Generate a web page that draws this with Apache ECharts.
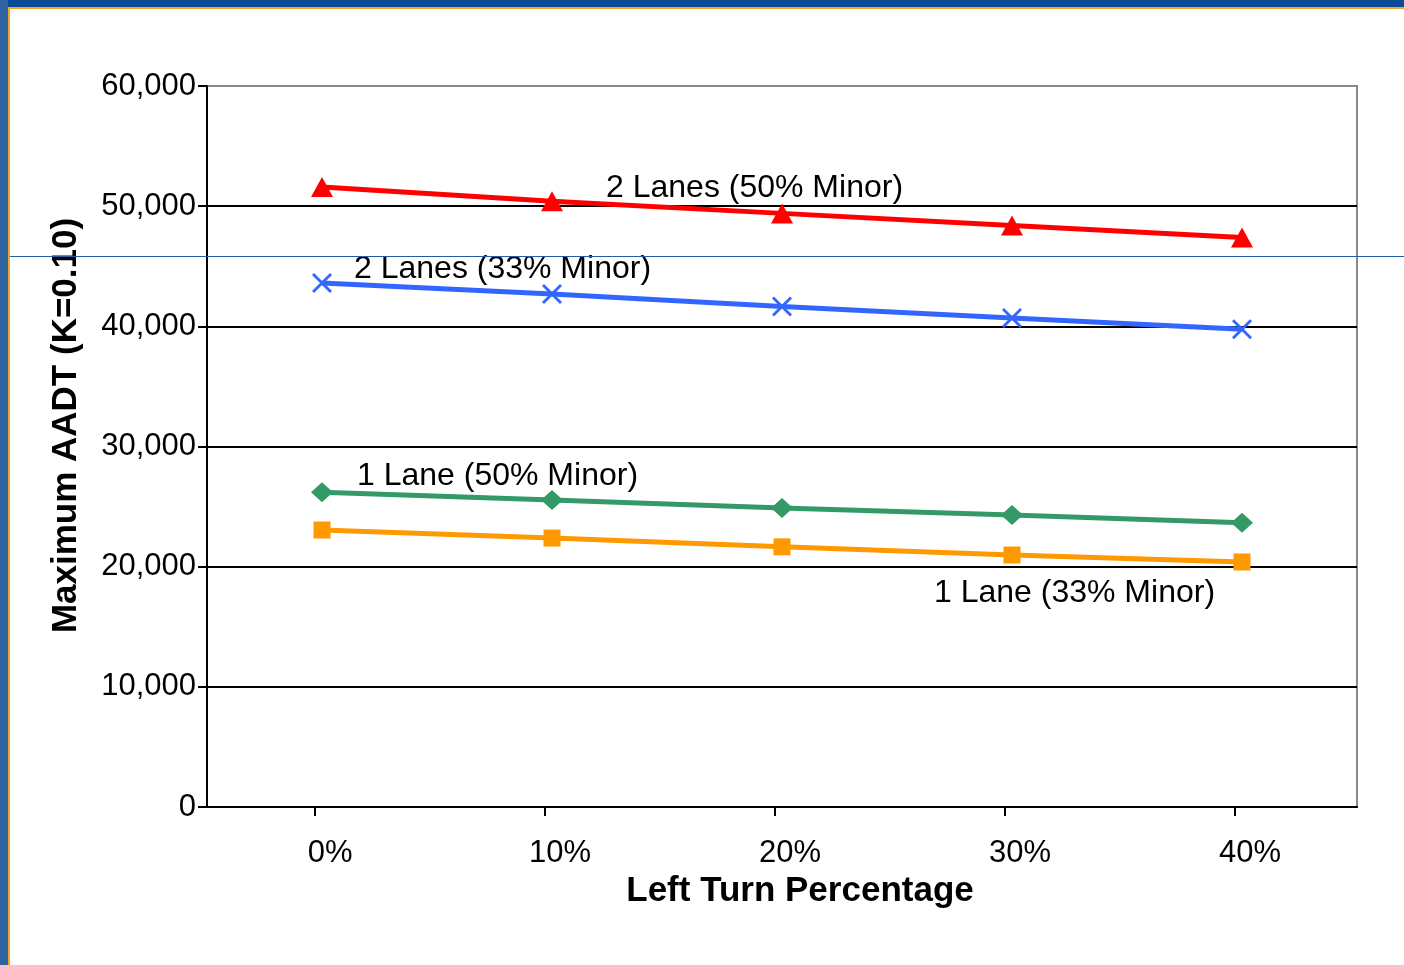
<!DOCTYPE html>
<html>
<head>
<meta charset="utf-8">
<script src="https://cdn.jsdelivr.net/npm/echarts@6/dist/echarts.min.js"></script>
<style>
html,body{margin:0;padding:0;background:#fff;}
#c{width:1404px;height:965px;}
</style>
</head>
<body>
<div id="c"></div>
<script>
// ---- data ----
var categories = [0, 10, 20, 30, 40];           // left turn percentage
var tickLabels = ['0%', '10%', '20%', '30%', '40%'];
var twoLanes50 = [51600, 50400, 49400, 48400, 47400];
var twoLanes33 = [43600, 42700, 41650, 40700, 39750];
var oneLane50 = [26200, 25550, 24880, 24300, 23650];
var oneLane33 = [23050, 22380, 21650, 20970, 20390];
var seriesNames = ['2 Lanes (50% Minor)', '2 Lanes (33% Minor)', '1 Lane (50% Minor)', '1 Lane (33% Minor)'];
var yTicks = [0, 10000, 20000, 30000, 40000, 50000, 60000];

function pairs(vals) { return categories.map(function (c, i) { return [c, vals[i]]; }); }

var FONT = "'Liberation Sans', Arial, sans-serif";
var chart = echarts.init(document.getElementById('c'), null, {renderer: 'canvas'});
var xCross = 'path://M0,1 L1,0 L5,4 L9,0 L10,1 L6,5 L10,9 L9,10 L5,6 L1,10 L0,9 L4,5 Z';

chart.setOption({
  backgroundColor: '#ffffff',
  animation: false,
  grid: {left: 207, right: 47, top: 86, bottom: 158, show: true, borderColor: '#8a8a8a', borderWidth: 2, backgroundColor: 'transparent'},
  xAxis: {
    type: 'value', min: -5, max: 45,
    name: 'Left Turn Percentage', nameLocation: 'middle', nameGap: 67,
    nameTextStyle: {fontFamily: FONT, fontSize: 35, fontWeight: 'bold', color: '#000', padding: [0, 0, 0, 36]},
    axisLine: {show: true, onZero: false, lineStyle: {color: '#000', width: 2}},
    axisTick: {show: true, length: 9, lineStyle: {color: '#000', width: 2},
      customValues: categories.map(function (c) { return c - 0.3; })},
    axisLabel: {fontFamily: FONT, fontSize: 31, color: '#000', margin: 31,
      customValues: categories.map(function (c) { return c + 0.35; }),
      formatter: function (v) { return tickLabels[categories.indexOf(Math.round(v))]; }},
    splitLine: {show: false}
  },
  yAxis: {
    type: 'value', min: 0, max: 60000, interval: 10000,
    name: 'Maximum AADT (K=0.10)', nameLocation: 'middle', nameGap: 123,
    nameTextStyle: {fontFamily: FONT, fontSize: 35, fontWeight: 'bold', color: '#000', padding: [0, 0, 0, 42]},
    axisLine: {show: true, onZero: false, lineStyle: {color: '#000', width: 2}},
    axisTick: {show: true, length: 9, lineStyle: {color: '#000', width: 2}},
    axisLabel: {fontFamily: FONT, fontSize: 31, color: '#000', margin: 11,
      formatter: function (v) { return v.toLocaleString('en-US'); }},
    splitLine: {show: true, lineStyle: {color: yTicks.map(function (t, i) { return i === yTicks.length - 1 ? '#8a8a8a' : '#000'; }), width: 2}}
  },
  series: [
    {name: seriesNames[0], type: 'line', data: pairs(twoLanes50), symbol: 'triangle', symbolSize: [22, 20],
      lineStyle: {color: '#ff0000', width: 5}, itemStyle: {color: '#ff0000'}},
    {name: seriesNames[1], type: 'line', data: pairs(twoLanes33), symbol: xCross, symbolSize: 20,
      lineStyle: {color: '#3366ff', width: 5}, itemStyle: {color: '#3366ff'}},
    {name: seriesNames[2], type: 'line', data: pairs(oneLane50), symbol: 'diamond', symbolSize: [22, 20],
      lineStyle: {color: '#339966', width: 5}, itemStyle: {color: '#339966'}},
    {name: seriesNames[3], type: 'line', data: pairs(oneLane33), symbol: 'rect', symbolSize: 17,
      lineStyle: {color: '#ff9900', width: 5}, itemStyle: {color: '#ff9900'}}
  ],
  graphic: [
    // slide frame decoration
    {type: 'rect', left: 0, top: 0, shape: {width: 1404, height: 7}, style: {fill: '#0b4a97'}, silent: true},
    {type: 'rect', left: 0, top: 0, shape: {width: 8, height: 965}, style: {fill: '#2f64a0'}, silent: true},
    {type: 'rect', left: 8, top: 7, shape: {width: 1396, height: 2}, style: {fill: '#f5a623'}, silent: true},
    {type: 'rect', left: 8, top: 7, shape: {width: 2, height: 958}, style: {fill: '#f5a623'}, silent: true},
    {type: 'rect', left: 10, top: 256, shape: {width: 1394, height: 1}, style: {fill: '#1f5fa5'}, silent: true, z: 100},
    // series annotations
    {type: 'text', left: 606, top: 172, style: {text: seriesNames[0], font: '32px ' + FONT, fill: '#000'}, z: 50},
    {type: 'text', left: 354, top: 253, style: {text: seriesNames[1], font: '32px ' + FONT, fill: '#000'}, z: 50},
    {type: 'text', left: 357, top: 460, style: {text: seriesNames[2], font: '32px ' + FONT, fill: '#000'}, z: 50},
    {type: 'text', left: 934, top: 577, style: {text: seriesNames[3], font: '32px ' + FONT, fill: '#000'}, z: 50}
  ]
});
</script>
</body>
</html>
